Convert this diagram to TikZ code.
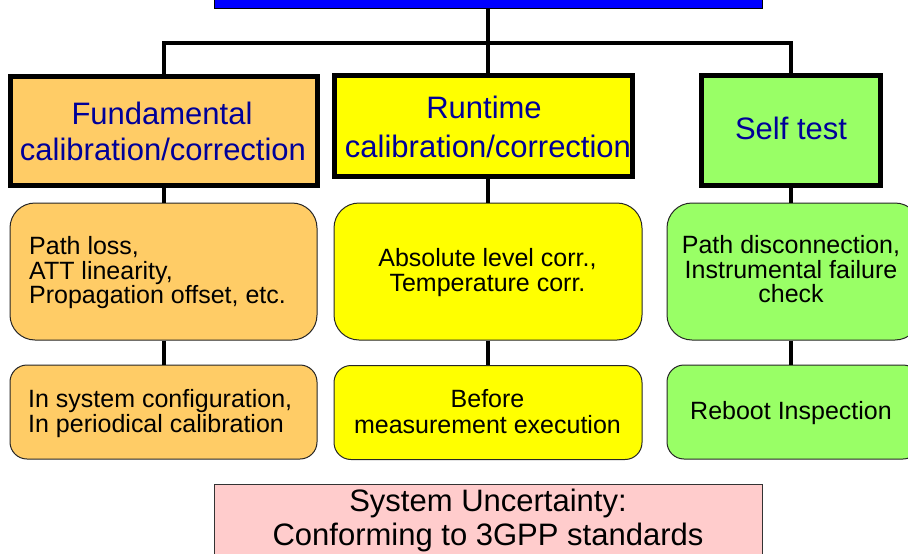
\documentclass[tikz,border=0pt]{standalone}
\usepackage{fontspec}
\setmainfont{Liberation Sans}
\usetikzlibrary{calc}
\definecolor{hdrblue}{RGB}{0,0,153}
\definecolor{topblue}{RGB}{0,0,255}
\definecolor{orangefill}{RGB}{255,204,102}
\definecolor{yellowfill}{RGB}{255,255,0}
\definecolor{greenfill}{RGB}{153,255,102}
\definecolor{pinkfill}{RGB}{255,204,204}
\tikzset{
  headbox/.style={draw=black, line width=5pt, rectangle, inner sep=0pt},
  itembox/.style={draw=black!85, line width=1pt, rectangle, inner sep=0pt},
  link/.style={draw=black, line width=4pt},
  hdr/.style={anchor=base, inner sep=0pt, text=hdrblue, font=\fontsize{31}{36}\selectfont},
  body/.style={anchor=base, inner sep=0pt, text=black, font=\fontsize{25}{25}\selectfont},
  bodyleft/.style={body, anchor=base west},
  big/.style={anchor=base, inner sep=0pt, text=black, font=\fontsize{31}{36}\selectfont},
}
\begin{document}
\begin{tikzpicture}[x=1pt, y=-1pt]
\useasboundingbox (0,0) rectangle (908,554);
\clip (0,0) rectangle (908,554);

% top bar
\node[draw=black, line width=1pt, fill=topblue, minimum width=548pt, minimum height=28pt, inner sep=0pt] (top) at (488,-6) {};

% first row: headings
\node[headbox, fill=orangefill, minimum width=307pt, minimum height=109pt] (f) at (164,131) {};
\node[headbox, fill=yellowfill, minimum width=298pt, minimum height=101pt] (r) at (483.5,126) {};
\node[headbox, fill=greenfill, minimum width=179pt, minimum height=110pt] (s) at (791,130.5) {};

% second row
\node[itembox, rounded corners=25pt, fill=orangefill, minimum width=307pt, minimum height=137pt] (f2) at (163.5,271.5) {};
\node[itembox, rounded corners=25pt, fill=yellowfill, minimum width=308pt, minimum height=137pt] (r2) at (488,271.5) {};
\node[itembox, rounded corners=25pt, fill=greenfill, minimum width=253pt, minimum height=137pt] (s2) at (793.5,271.5) {};

% third row
\node[itembox, rounded corners=17pt, fill=orangefill, minimum width=307pt, minimum height=94pt] (f3) at (163.5,412) {};
\node[itembox, rounded corners=17pt, fill=yellowfill, minimum width=308pt, minimum height=94pt] (r3) at (488,412.5) {};
\node[itembox, rounded corners=17pt, fill=greenfill, minimum width=253pt, minimum height=94pt] (s3) at (793.5,412) {};

% bottom box
\node[draw=black!80, line width=1pt, fill=pinkfill, minimum width=548pt, minimum height=86pt, inner sep=0pt] (unc) at (488,527) {};

% connectors
\coordinate (j) at ($(top.south)+(0,34)$);
\draw[link] (top.south) -- (j);
\draw[link] (f.north) |- (j) -| (s.north);
\draw[link] (j) -- (j |- r.north);
\draw[link] (f.south) -- (f.south |- f2.north);
\draw[link] (j |- r.south) -- (j |- r2.north);
\draw[link] (s.south) -- (s.south |- s2.north);
\draw[link] (f.south |- f2.south) -- (f.south |- f3.north);
\draw[link] (j |- r2.south) -- (j |- r3.north);
\draw[link] (s.south |- s2.south) -- (s.south |- s3.north);

% heading texts
\node[hdr] (f-t1) at (162,124) {Fundamental};
\node[hdr] (f-t2) at (163,160) {calibration/correction};
\node[hdr] (r-t1) at (484,118) {Runtime};
\node[hdr] (r-t2) at (488,157) {calibration/correction};
\node[hdr] (s-t1) at (791,139) {Self test};

% second row texts
\node[bodyleft] (f2-t1) at (29,254) {Path loss,};
\node[bodyleft] (f2-t2) at (29,279) {ATT linearity,};
\node[bodyleft] (f2-t3) at (29,303) {Propagation offset, etc.};
\node[body] (r2-t1) at (487.5,266) {Absolute level corr.,};
\node[body] (r2-t2) at (487.5,291) {Temperature corr.};
\node[body] (s2-t1) at (791,253) {Path disconnection,};
\node[body] (s2-t2) at (791,278) {Instrumental failure};
\node[body] (s2-t3) at (791,302) {check};

% third row texts
\node[bodyleft] (f3-t1) at (28,407) {In system configuration,};
\node[bodyleft] (f3-t2) at (28,432) {In periodical calibration};
\node[body] (r3-t1) at (487.5,407) {Before};
\node[body] (r3-t2) at (487.5,433) {measurement execution};
\node[body] (s3-t1) at (791,419) {Reboot Inspection};

% bottom texts
\node[big] (unc-t1) at (488,511) {System Uncertainty:};
\node[big] (unc-t2) at (488,545) {Conforming to 3GPP standards};
\end{tikzpicture}
\end{document}
